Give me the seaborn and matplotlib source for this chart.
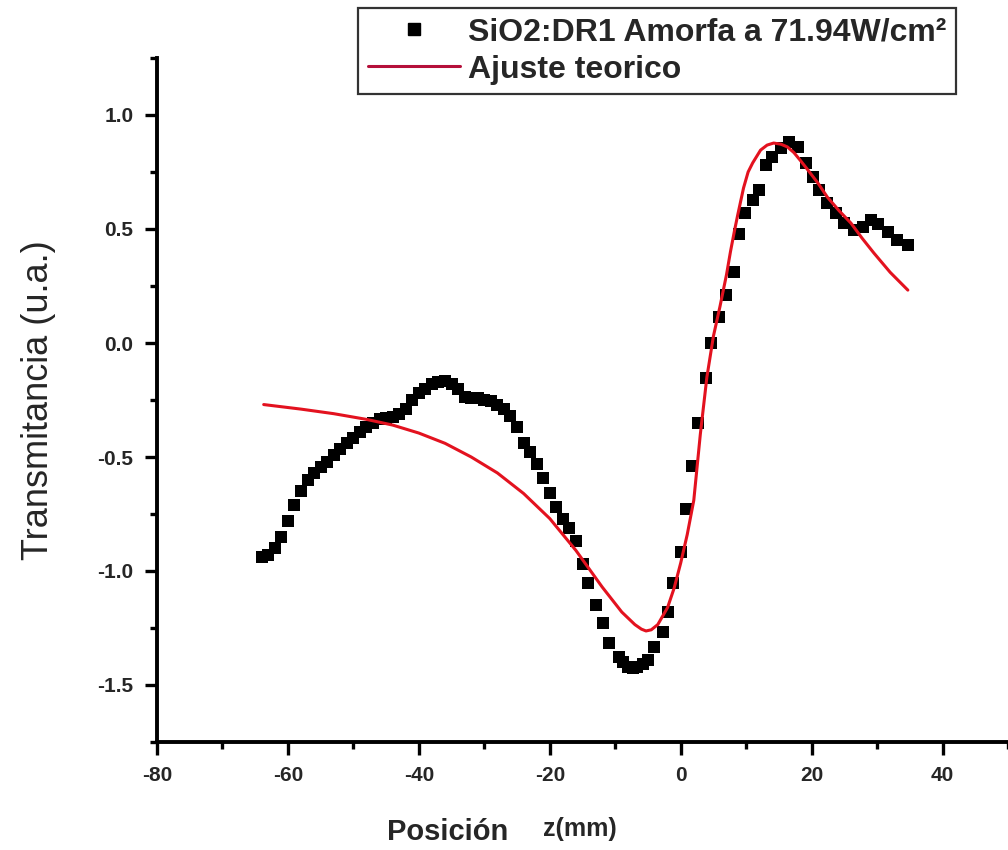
import matplotlib
matplotlib.use("Agg")
import matplotlib.pyplot as plt
from matplotlib.lines import Line2D
from matplotlib.ticker import MultipleLocator, FormatStrFormatter
import seaborn as sns
import pandas as pd

# ---- data ----
z_data = [-64, -63, -62, -61, -60, -59, -58, -57, -56, -55, -54, -53, -52, -51,
          -50, -49, -48, -47, -46, -45, -44, -43, -42, -41, -40, -39, -38, -37,
          -36, -35, -34, -33, -32, -31, -30, -29, -28, -27, -26, -25, -24, -23,
          -22, -21, -20, -19, -18, -17, -16, -15,
          -14.2, -13.0, -11.9, -10.9, -9.5, -8.8, -8.0, -7.3, -6.6, -5.8, -5.0,
          -4.1, -2.7, -2.0, -1.2, 0.0, 0.8, 1.8, 2.6, 3.8, 4.6, 5.8, 6.9, 8.1,
          8.9, 9.9, 11.0, 11.9, 13.0, 14.0, 15.3, 16.5, 17.9, 19.1, 20.2, 21.1,
          22.4, 23.7, 24.9, 26.4, 27.8, 29.0, 30.2, 31.6, 33.1, 34.8]
t_data = [-0.94, -0.93, -0.90, -0.85, -0.78, -0.71, -0.65, -0.60, -0.57, -0.545,
          -0.52, -0.49, -0.465, -0.44, -0.415, -0.39, -0.37, -0.35, -0.335, -0.33,
          -0.325, -0.31, -0.29, -0.25, -0.22, -0.20, -0.18, -0.17, -0.165, -0.18,
          -0.20, -0.235, -0.24, -0.24, -0.25, -0.255, -0.27, -0.29, -0.32, -0.37,
          -0.44, -0.48, -0.53, -0.59, -0.66, -0.72, -0.77, -0.81, -0.87, -0.97,
          -1.053, -1.149, -1.228, -1.316, -1.377, -1.40, -1.42, -1.425, -1.42,
          -1.41, -1.39, -1.333, -1.268, -1.18, -1.053, -0.917, -0.73, -0.54,
          -0.35, -0.155, 0.0, 0.115, 0.21, 0.31, 0.48, 0.57, 0.627, 0.67, 0.78,
          0.816, 0.855, 0.88, 0.86, 0.79, 0.73, 0.67, 0.614, 0.57, 0.526, 0.496,
          0.51, 0.54, 0.52, 0.487, 0.45, 0.43]

z_fit = [-63.7, -58.0, -53.0, -48.0, -44.0, -40.0, -36.0, -32.0, -28.0, -24.0,
         -20.0, -16.0, -12.0, -9.0, -7.0, -6.0, -5.3, -4.5, -3.5, -2.0, -1.0,
         0.0, 1.0, 2.0, 3.0, 4.0, 5.0, 6.0, 7.0, 7.6, 8.2, 8.7, 9.6, 10.3, 11.0,
         12.2, 13.2, 14.2, 15.3, 16.3, 17.3, 18.3, 19.4, 21.0, 22.4, 24.2, 26.0,
         27.7, 29.5, 32.0, 34.7]
t_fit = [-0.27, -0.29, -0.31, -0.335, -0.36, -0.395, -0.44, -0.50, -0.57, -0.66,
         -0.77, -0.91, -1.07, -1.18, -1.235, -1.255, -1.263, -1.258, -1.235,
         -1.16, -1.075, -0.965, -0.84, -0.69, -0.40, -0.15, 0.03, 0.16, 0.30,
         0.40, 0.49, 0.56, 0.68, 0.75, 0.79, 0.846, 0.868, 0.877, 0.872, 0.86,
         0.835, 0.80, 0.76, 0.70, 0.64, 0.58, 0.526, 0.46, 0.395, 0.31, 0.232]

label_data = "SiO2:DR1 Amorfa a 71.94W/cm²"
label_fit = "Ajuste teorico"

df_data = pd.DataFrame({"z": z_data, "T": t_data})
df_fit = pd.DataFrame({"z": z_fit, "T": t_fit})

sns.set_style("ticks")
plt.rcParams["font.family"] = ["Liberation Sans", "DejaVu Sans"]
plt.rcParams["axes.unicode_minus"] = False

RED = "#e3121f"

fig = plt.figure(figsize=(10.08, 8.5), dpi=100)
ax = fig.add_axes([157 / 1008, 1 - 742 / 850, 1 - 157 / 1008, (742 - 58) / 850])

sns.scatterplot(data=df_data, x="z", y="T", ax=ax, marker="s", s=72,
                color="black", linewidth=0, zorder=2)
sns.lineplot(data=df_fit, x="z", y="T", ax=ax, sort=False, estimator=None,
             color=RED, linewidth=2.2, zorder=3)

ax.set_xlim(-80, 50)
ax.set_ylim(-1.75, 1.25)
ax.xaxis.set_major_locator(MultipleLocator(20))
ax.xaxis.set_minor_locator(MultipleLocator(10))
ax.yaxis.set_major_locator(MultipleLocator(0.5))
ax.yaxis.set_minor_locator(MultipleLocator(0.25))
ax.yaxis.set_major_formatter(FormatStrFormatter("%.1f"))

for s in ["top", "right"]:
    ax.spines[s].set_visible(False)
for s in ["left", "bottom"]:
    ax.spines[s].set_linewidth(2.8)
    ax.spines[s].set_color("black")

ax.tick_params(axis="both", which="major", direction="out", length=9,
               width=2.4, color="black")
ax.tick_params(axis="both", which="minor", direction="out", length=5,
               width=2.4, color="black")
ax.tick_params(axis="x", which="major", labelsize=15, pad=8)
ax.tick_params(axis="y", which="major", labelsize=15, pad=8)
for lab in ax.get_xticklabels() + ax.get_yticklabels():
    lab.set_fontweight("bold")

ax.set_xlabel("")
ax.set_ylabel("Transmitancia (u.a.)", fontsize=26, labelpad=30)

fig.text(448 / 1008, 1 - 832 / 850, "Posición", fontsize=21, fontweight="bold",
         ha="center", va="center")
fig.text(580 / 1008, 1 - 829 / 850, "z(mm)", fontsize=18, fontweight="bold",
         ha="center", va="center")

handles = [
    Line2D([], [], marker="s", linestyle="none", color="black", markersize=8),
    Line2D([], [], color="#b5103a", linewidth=2.2),
]
leg = fig.legend(handles, [label_data, label_fit], loc="upper left",
                 bbox_to_anchor=(358 / 1008, 1 - 8 / 850),
                 bbox_transform=fig.transFigure, frameon=True, fancybox=False,
                 prop={"size": 23, "weight": "bold"}, handlelength=2.9,
                 handletextpad=0.25, borderpad=0.3, labelspacing=0.22,
                 borderaxespad=0)
leg.get_frame().set_edgecolor("black")
leg.get_frame().set_linewidth(1.6)

fig.savefig("out.png", dpi=100, facecolor="white")
